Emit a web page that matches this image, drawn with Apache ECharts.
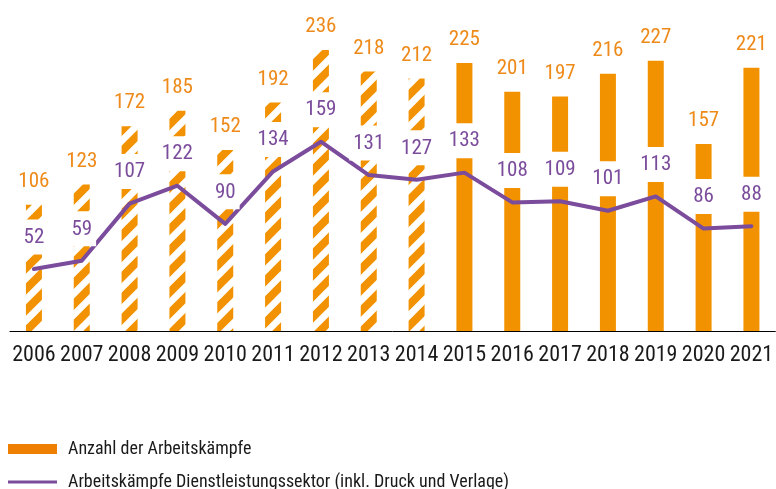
<!DOCTYPE html>
<html>
<head>
<meta charset="utf-8">
<script src="https://cdn.jsdelivr.net/npm/echarts@6/dist/echarts.min.js"></script>
<style>html,body{margin:0;padding:0;background:#fff}#c{width:776px;height:489px}</style>
</head>
<body>
<div id="c"></div>
<script>
var years = ['2006','2007','2008','2009','2010','2011','2012','2013','2014','2015','2016','2017','2018','2019','2020','2021'];
var arbeitskaempfe = [106,123,172,185,152,192,236,218,212,225,201,197,216,227,157,221];
var dienstleistung = [52,59,107,122,90,134,159,131,127,133,108,109,101,113,86,88];
var lastHatchedYear = '2014';
var nameBars = 'Anzahl der Arbeitskämpfe';
var nameLine = 'Arbeitskämpfe Dienstleistungssektor (inkl. Druck und Verlage)';

var ORANGE = '#f39200';
var ORANGE_TXT = '#ee8a1a';
var PURPLE = '#7b4c9c';
var FONT = 'Roboto';
var STRETCH = 'condensed';

function makeHatch() {
  var P = 21;
  var c = document.createElement('canvas');
  c.width = P; c.height = P;
  var ctx = c.getContext('2d');
  ctx.fillStyle = '#fff';
  ctx.fillRect(0, 0, P, P);
  ctx.strokeStyle = ORANGE;
  ctx.lineWidth = 8;
  ctx.beginPath();
  ctx.moveTo(0, P); ctx.lineTo(P, 0);
  ctx.moveTo(-P/2, P/2); ctx.lineTo(P/2, -P/2);
  ctx.moveTo(P/2, 3*P/2); ctx.lineTo(3*P/2, P/2);
  ctx.stroke();
  return c;
}
var hatch = makeHatch();
var hatchIdx = years.indexOf(lastHatchedYear);

var barData = arbeitskaempfe.map(function (v, i) {
  return {
    value: v,
    itemStyle: { color: i <= hatchIdx ? { image: hatch, repeat: 'repeat' } : ORANGE }
  };
});

var legendText = { color: '#1a1a1a', fontFamily: FONT, fontStyle: STRETCH, fontSize: 18, lineHeight: 18, padding: [0, 0, 0, 6] };

var chart = echarts.init(document.getElementById('c'), null, { renderer: 'canvas' });
chart.setOption({
  animation: false,
  grid: { left: 10, right: -4, top: 0, height: 331 },
  xAxis: {
    type: 'category',
    data: years,
    axisLine: { lineStyle: { color: '#000', width: 1 } },
    axisTick: { show: false },
    axisLabel: { interval: 0, color: '#1a1a1a', fontFamily: FONT, fontStyle: STRETCH, fontSize: 22, margin: 13 }
  },
  yAxis: { type: 'value', min: 0, max: 278, show: false, splitLine: { show: false } },
  legend: [
    {
      left: 8, top: 440, padding: 0, itemGap: 0,
      itemWidth: 49, itemHeight: 10, textStyle: legendText,
      data: [{ name: nameBars, icon: 'rect', itemStyle: { color: '#ef7f00' } }]
    },
    {
      left: 8, top: 473, padding: 0, itemGap: 0,
      itemWidth: 49, itemHeight: 3, textStyle: legendText,
      data: [{ name: nameLine, icon: 'path://M0,0 H49 V3 H0 Z', itemStyle: { color: PURPLE } }]
    }
  ],
  series: [
    {
      name: nameBars,
      type: 'bar',
      data: barData,
      barWidth: 16,
      itemStyle: { color: ORANGE },
      label: {
        show: true, position: 'top', distance: 12,
        color: ORANGE_TXT, fontFamily: FONT, fontStyle: STRETCH, fontSize: 21, lineHeight: 22
      },
      z: 2
    },
    {
      name: nameLine,
      type: 'line',
      data: dienstleistung,
      symbol: 'circle', symbolSize: 1,
      itemStyle: { color: PURPLE },
      lineStyle: { color: PURPLE, width: 4, cap: 'round', join: 'round' },
      label: {
        show: true, position: 'top', distance: 14,
        color: PURPLE, fontFamily: FONT, fontStyle: STRETCH, fontSize: 21, lineHeight: 20,
        backgroundColor: '#fff', padding: [8, 4, 7, 4]
      },
      z: 3
    }
  ]
});
</script>
</body>
</html>
